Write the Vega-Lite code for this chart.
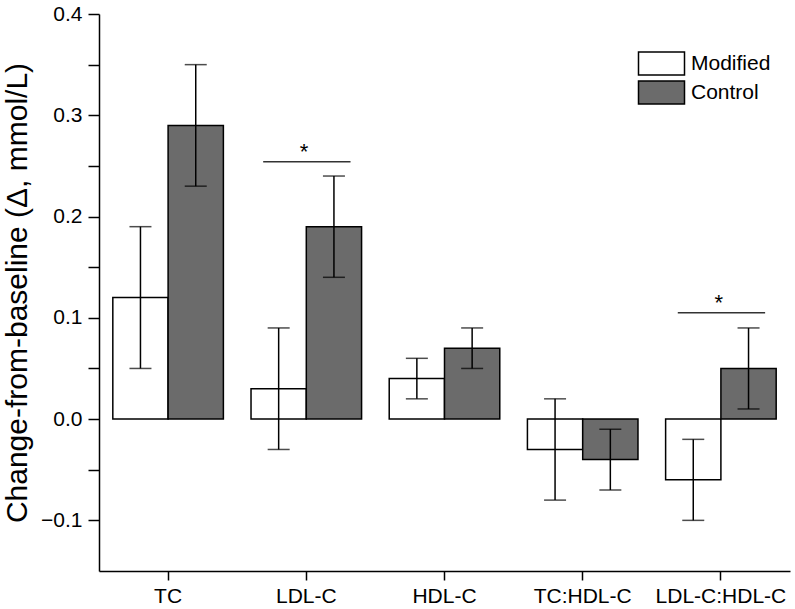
{
  "$schema": "https://vega.github.io/schema/vega-lite/v6.json",
  "width": 691,
  "height": 557,
  "autosize": {"type": "none"},
  "padding": {"left": 99, "top": 14, "right": 5, "bottom": 38},
  "background": "white",
  "config": {
    "view": {"stroke": null},
    "font": "Liberation Sans",
    "axis": {"grid": false, "domainColor": "black", "tickColor": "black", "labelColor": "black", "titleColor": "black", "domainWidth": 1.5, "tickWidth": 1.5}
  },
  "datasets": {
    "bars": [
      {"cat": "TC", "group": "Modified", "value": 0.12, "lo": 0.05, "hi": 0.19},
      {"cat": "TC", "group": "Control", "value": 0.29, "lo": 0.23, "hi": 0.35},
      {"cat": "LDL-C", "group": "Modified", "value": 0.03, "lo": -0.03, "hi": 0.09},
      {"cat": "LDL-C", "group": "Control", "value": 0.19, "lo": 0.14, "hi": 0.24},
      {"cat": "HDL-C", "group": "Modified", "value": 0.04, "lo": 0.02, "hi": 0.06},
      {"cat": "HDL-C", "group": "Control", "value": 0.07, "lo": 0.05, "hi": 0.09},
      {"cat": "TC:HDL-C", "group": "Modified", "value": -0.03, "lo": -0.08, "hi": 0.02},
      {"cat": "TC:HDL-C", "group": "Control", "value": -0.04, "lo": -0.07, "hi": -0.01},
      {"cat": "LDL-C:HDL-C", "group": "Modified", "value": -0.06, "lo": -0.10, "hi": -0.02},
      {"cat": "LDL-C:HDL-C", "group": "Control", "value": 0.05, "lo": 0.01, "hi": 0.09}
    ],
    "sig": [
      {"cat": "LDL-C", "y": 0.254},
      {"cat": "LDL-C:HDL-C", "y": 0.105}
    ]
  },
  "layer": [
    {
      "data": {"name": "bars"},
      "mark": {"type": "bar", "stroke": "black", "strokeWidth": 1.5},
      "encoding": {
        "x": {
          "field": "cat", "type": "nominal",
          "sort": ["TC", "LDL-C", "HDL-C", "TC:HDL-C", "LDL-C:HDL-C"],
          "scale": {"paddingInner": 0.2, "paddingOuter": 0.1},
          "axis": {"title": null, "labelAngle": 0, "labelFontSize": 21, "labelPadding": 5, "tickSize": 9}
        },
        "xOffset": {"field": "group", "type": "nominal", "sort": ["Modified", "Control"], "scale": {"paddingInner": 0, "paddingOuter": 0}},
        "y": {
          "field": "value", "type": "quantitative",
          "scale": {"domain": [-0.15, 0.4], "nice": false, "zero": false},
          "axis": {
            "title": "Change-from-baseline (Δ, mmol/L)",
            "titleFontSize": 30, "titleFontWeight": "normal", "titlePadding": 8,
            "values": [-0.1, -0.05, 0, 0.05, 0.1, 0.15, 0.2, 0.25, 0.3, 0.35, 0.4],
            "labelExpr": "abs(datum.value * 10 - round(datum.value * 10)) < 0.01 ? format(datum.value, '.1f') : ''",
            "labelFontSize": 21, "labelPadding": 6, "tickSize": 11
          }
        },
        "fill": {
          "field": "group", "type": "nominal",
          "scale": {"domain": ["Modified", "Control"], "range": ["white", "#6b6b6b"]},
          "legend": {
            "title": null, "orient": "none", "legendX": 552, "legendY": 39, "padding": 0,
            "symbolType": "M-4,-2H4V2H-4Z", "symbolSize": 132.25,
            "symbolStrokeColor": "black", "symbolStrokeWidth": 1.5, "symbolOpacity": 1,
            "labelFontSize": 21, "labelOffset": 19, "rowPadding": 0, "labelColor": "black"
          }
        }
      }
    },
    {
      "data": {"name": "bars"},
      "mark": {"type": "rule", "color": "black", "strokeWidth": 1.5},
      "encoding": {
        "x": {"field": "cat", "type": "nominal", "sort": ["TC", "LDL-C", "HDL-C", "TC:HDL-C", "LDL-C:HDL-C"]},
        "xOffset": {"field": "group", "type": "nominal", "sort": ["Modified", "Control"]},
        "y": {"field": "lo", "type": "quantitative"},
        "y2": {"field": "hi"}
      }
    },
    {
      "data": {"name": "bars"},
      "mark": {"type": "tick", "color": "black", "size": 22, "thickness": 1.5, "orient": "horizontal"},
      "encoding": {
        "x": {"field": "cat", "type": "nominal", "sort": ["TC", "LDL-C", "HDL-C", "TC:HDL-C", "LDL-C:HDL-C"]},
        "xOffset": {"field": "group", "type": "nominal", "sort": ["Modified", "Control"]},
        "y": {"field": "lo", "type": "quantitative"}
      }
    },
    {
      "data": {"name": "bars"},
      "mark": {"type": "tick", "color": "black", "size": 22, "thickness": 1.5, "orient": "horizontal"},
      "encoding": {
        "x": {"field": "cat", "type": "nominal", "sort": ["TC", "LDL-C", "HDL-C", "TC:HDL-C", "LDL-C:HDL-C"]},
        "xOffset": {"field": "group", "type": "nominal", "sort": ["Modified", "Control"]},
        "y": {"field": "hi", "type": "quantitative"}
      }
    },
    {
      "mark": {"type": "rule", "color": "black", "strokeWidth": 1.5},
      "encoding": {"y": {"datum": 0}}
    },
    {
      "data": {"name": "sig"},
      "mark": {"type": "rule", "color": "#333333", "strokeWidth": 1.5},
      "encoding": {
        "x": {"field": "cat", "type": "nominal", "sort": ["TC", "LDL-C", "HDL-C", "TC:HDL-C", "LDL-C:HDL-C"], "bandPosition": 0.11},
        "x2": {"field": "cat", "bandPosition": 0.9},
        "y": {"field": "y", "type": "quantitative"}
      }
    },
    {
      "data": {"name": "sig"},
      "mark": {"type": "text", "color": "black", "fontSize": 22, "dy": -3, "baseline": "alphabetic", "align": "center"},
      "encoding": {
        "x": {"field": "cat", "type": "nominal", "sort": ["TC", "LDL-C", "HDL-C", "TC:HDL-C", "LDL-C:HDL-C"], "bandPosition": 0.48},
        "y": {"field": "y", "type": "quantitative"},
        "text": {"value": "*"}
      }
    }
  ]
}
